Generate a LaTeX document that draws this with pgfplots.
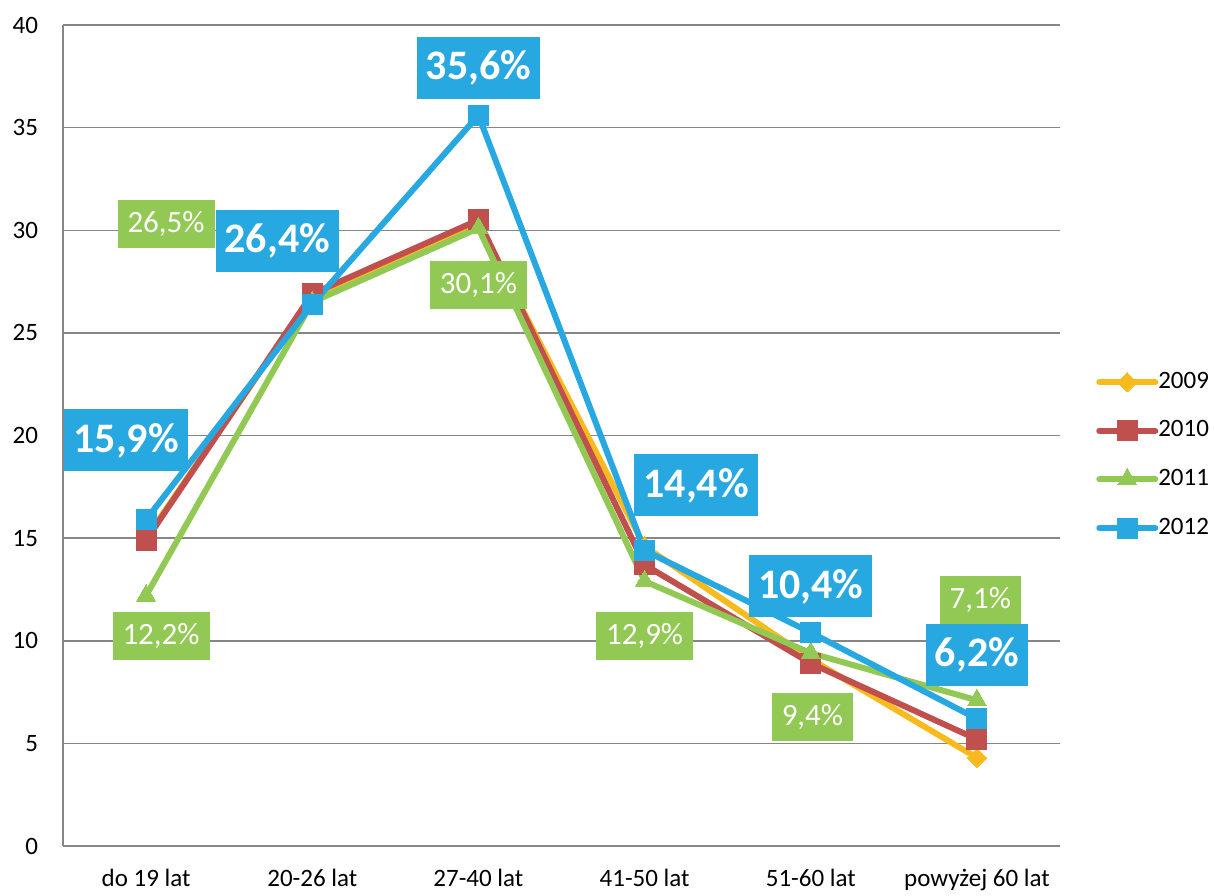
\documentclass[border=0pt]{standalone}
\usepackage{fontspec}
\setmainfont{Carlito}
\usepackage{pgfplots}
\pgfplotsset{compat=1.18}

\definecolor{c09}{RGB}{249,186,30}
\definecolor{c10}{RGB}{192,80,77}
\definecolor{c11}{RGB}{146,200,84}
\definecolor{c12}{RGB}{40,168,224}
\definecolor{gridgray}{RGB}{134,134,134}

\pgfplotsset{
  series/.style={line width=3pt, line cap=round, line join=round},
}
\tikzset{
  glab/.style={fill=c11, text=white, font=\fontsize{15.5}{16}\selectfont,
    inner xsep=5pt, inner ysep=0pt, minimum height=24pt},
  blab/.style={fill=c12, text=white, font=\fontsize{21}{22}\selectfont\bfseries,
    inner xsep=4.5pt, inner ysep=0pt, minimum height=31pt},
}

\begin{document}
\begin{tikzpicture}
\path[use as bounding box] (-31.5pt,-24.5pt) rectangle (575.5pt,423pt);
\begin{axis}[
  scale only axis,
  width=498.5pt, height=410.5pt,
  xmin=-0.5, xmax=5.5,
  ymin=0, ymax=40,
  ytick={0,5,...,40},
  xtick={0,1,2,3,4,5},
  xticklabels={do 19 lat,20-26 lat,27-40 lat,41-50 lat,51-60 lat,powyżej 60 lat},
  axis x line=bottom, axis y line=left,
  axis line style={gridgray, line width=0.75pt, -},
  ymajorgrids,
  grid style={gridgray, line width=0.75pt},
  major tick length=0pt,
  tick label style={font=\fontsize{12.5}{13}\selectfont},
  /pgf/number format/assume math mode=true,
  yticklabel style={xshift=-9pt},
  xticklabel style={yshift=-8pt},
  clip=false,
  legend style={at={(1.036,0.58)}, anchor=north west, draw=none, fill=none,
    font=\fontsize{12.5}{13}\selectfont, row sep=12.3pt, inner sep=0pt,
    nodes={inner sep=0pt, text height=9pt, text depth=3pt}},
  legend cell align=left,
  legend image code/.code={%
    \draw[mark repeat=2, mark phase=2] plot coordinates {(0pt,0pt) (14pt,0pt) (28pt,0pt)};},
]
\addplot[series, color=c09, mark=square*, mark size=3.4pt,
  mark options={solid, line width=0pt, rotate=45}]
  coordinates {(0,15.0) (1,26.8) (2,30.3) (3,14.6) (4,9.1) (5,4.3)};
\addlegendentry{2009}
\addplot[series, color=c10, mark=square*, mark size=5pt,
  mark options={solid, line width=0pt}]
  coordinates {(0,14.9) (1,26.9) (2,30.5) (3,13.7) (4,8.9) (5,5.2)};
\addlegendentry{2010}
\addplot[series, color=c11, mark=triangle*, mark size=5.5pt,
  mark options={solid, line width=0pt}]
  coordinates {(0,12.2) (1,26.5) (2,30.1) (3,12.9) (4,9.4) (5,7.1)};
\addlegendentry{2011}
\addplot[series, color=c12, mark=square*, mark size=5pt,
  mark options={solid, line width=0pt}]
  coordinates {(0,15.9) (1,26.4) (2,35.6) (3,14.4) (4,10.4) (5,6.2)};
\addlegendentry{2012}

% data labels
\node[glab] at (axis cs:0.12,30.32) {26,5\%};
\node[glab] at (axis cs:0.09,10.22) {12,2\%};
\node[glab] at (axis cs:2.0,27.35) {30,1\%};
\node[glab] at (axis cs:3.0,10.22) {12,9\%};
\node[glab] at (axis cs:4.01,6.28) {9,4\%};
\node[glab] at (axis cs:5.02,11.97) {7,1\%};
\node[blab] at (axis cs:-0.12,19.76) {15,9\%};
\node[blab] at (axis cs:0.79,29.49) {26,4\%};
\node[blab] at (axis cs:2.0,37.9) {35,6\%};
\node[blab] at (axis cs:3.31,17.57) {14,4\%};
\node[blab] at (axis cs:4.0,12.65) {10,4\%};
\node[blab] at (axis cs:5.0,9.29) {6,2\%};
\end{axis}
\end{tikzpicture}
\end{document}
